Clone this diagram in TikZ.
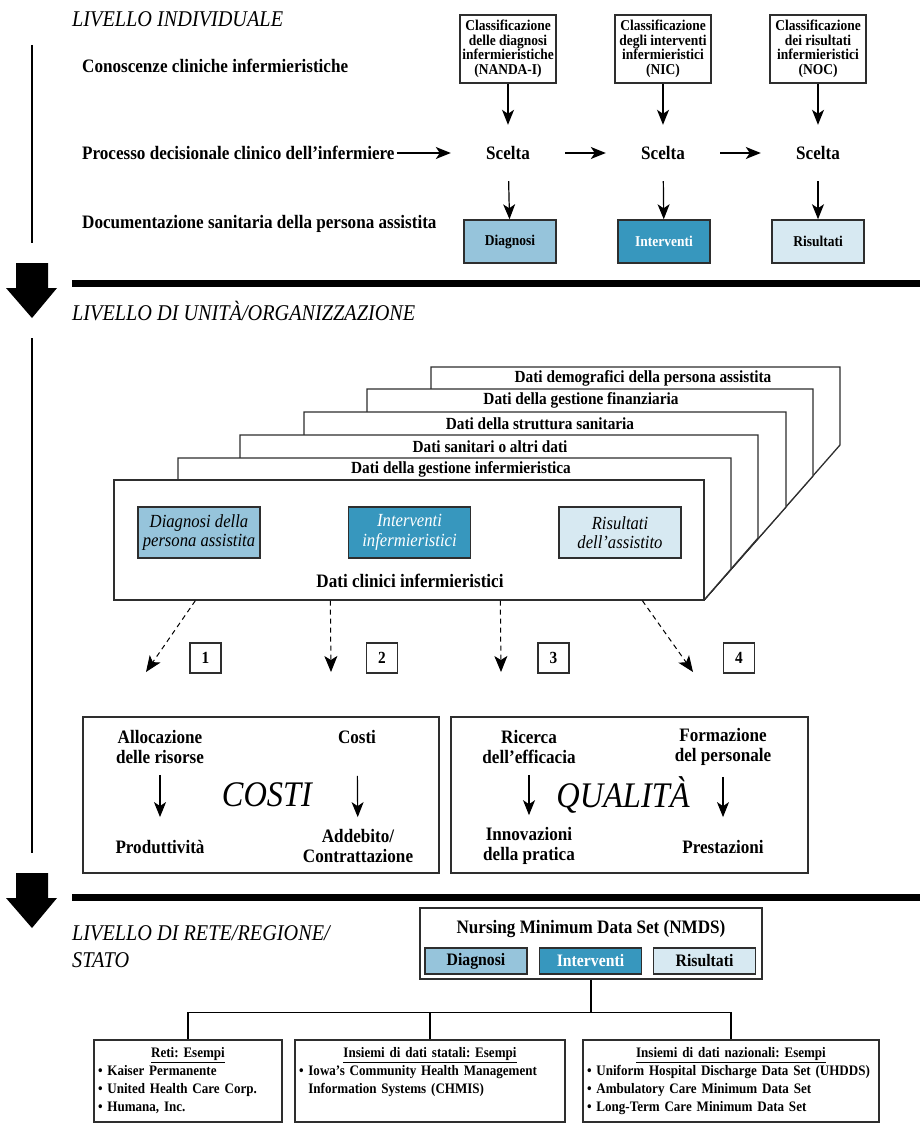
\documentclass[tikz,border=0pt]{standalone}
\usepackage{fontspec}
\setmainfont{Liberation Serif}[FakeStretch=0.9]
\usepackage{tikz}
\usetikzlibrary{arrows.meta, positioning, calc}
\definecolor{diagblue}{HTML}{96C4DB}
\definecolor{intblue}{HTML}{3797BE}
\definecolor{resblue}{HTML}{D7E9F2}
\definecolor{edge}{HTML}{2E2E2E}
\newcommand{\setsize}[2]{\fontsize{#1}{#2}\selectfont\lineskiplimit=-20pt}
\frenchspacing
\tikzset{
>={Stealth[length=15pt,width=12pt,inset=4pt]}, % solid heads for all arrows
every node/.style={inner sep=2pt}, % tight padding
heading/.style={anchor=west, align=left, font=\setsize{22.5}{27}\itshape}, % level titles
rowlabel/.style={anchor=west, font=\setsize{19}{20}\bfseries}, % left column texts
classbox/.style={draw=edge, line width=1.3pt, minimum width=96pt, minimum height=68pt, align=center, font=\setsize{15}{14.5}\bfseries}, % NANDA-I, NIC, NOC
choice/.style={minimum width=114pt, minimum height=56pt, font=\setsize{19}{20}\bfseries}, % Scelta
codebox/.style={draw=edge, line width=1.5pt, minimum width=92pt, minimum height=43pt, font=\setsize{15}{15}\bfseries}, % record boxes
diag/.style={fill=diagblue}, % diagnoses colour
interv/.style={fill=intblue, text=white}, % interventions colour
risul/.style={fill=resblue}, % outcomes colour
sheet/.style={draw=edge, fill=white, line width=1.3pt, line join=miter}, % stacked data pages
sheettext/.style={font=\setsize{17}{18}\bfseries}, % page titles
databox/.style={draw=edge, line width=1.3pt, minimum width=122pt, minimum height=51pt, align=center, font=\setsize{18.5}{19.5}\itshape}, % clinical data boxes
numbox/.style={draw=edge, line width=1.2pt, minimum width=31pt, minimum height=30pt, font=\setsize{17}{18}\bfseries}, % 1 to 4
dasharrow/.style={-{Stealth[length=16pt,width=13pt,inset=4pt]}, line width=1pt, dash pattern=on 5pt off 4pt}, % uses of the data
areabox/.style={draw=edge, line width=1.3pt, minimum width=356pt, minimum height=156pt}, % COSTI and QUALITA
areatext/.style={align=center, font=\setsize{19}{20}\bfseries}, % texts in those boxes
bigword/.style={font=\setsize{36}{36}\itshape}, % COSTI, QUALITA
tinybox/.style={draw=edge, line width=1.5pt, minimum width=102pt, minimum height=26pt, font=\setsize{17.5}{18}\bfseries}, % NMDS elements
netbox/.style={draw=edge, line width=1.3pt, minimum height=82pt}, % example boxes
nettext/.style={anchor=north, align=left, font=\setsize{14.5}{17.8}\bfseries}, % example lists
}

\begin{document}
\begin{tikzpicture}[x=1pt, y=-1pt]
\path[use as bounding box, fill=white] (0,0) rectangle (920,1123);

% individual level
\node[heading] (h1) at (70,19) {LIVELLO INDIVIDUALE};
\draw[line width=1.8pt] (32,45) -- (32,243);
\node[rowlabel] (know) at (80,66) {Conoscenze cliniche infermieristiche};
\node[rowlabel] (proc) at (80,153) {Processo decisionale clinico dell’infermiere};
\node[rowlabel] (doc) at (80,224) {Documentazione sanitaria della persona assistita};

\node[classbox] (c1) at (508,49) {Classificazione\\delle diagnosi\\infermieristiche\\(NANDA-I)};
\node[classbox] (c2) at (663,49) {Classificazione\\degli interventi\\infermieristici\\(NIC)};
\node[classbox] (c3) at (818,49) {Classificazione\\dei risultati\\infermieristici\\(NOC)};

\node[choice] (s1) at (508,153) {Scelta};
\node[choice] (s2) at (663,153) {Scelta};
\node[choice] (s3) at (818,153) {Scelta};

\node[codebox, diag] (d1) at (510,241.5) {Diagnosi};
\node[codebox, interv] (d2) at (664,241.5) {Interventi};
\node[codebox, risul] (d3) at (818,241.5) {Risultati};

\draw[->, line width=1.2pt] (c1) -- (s1);
\draw[->, line width=1.2pt] (c2) -- (s2);
\draw[->, line width=1.2pt] (c3) -- (s3);
\draw[->, line width=1.2pt] (proc) -- (s1);
\draw[->, line width=1.2pt] (s1) -- (s2);
\draw[->, line width=1.2pt] (s2) -- (s3);
\draw[->, line width=1.2pt] (s1) -- (d1);
\draw[->, line width=1.2pt] (s2) -- (d2);
\draw[->, line width=1.2pt] (s3) -- (d3);

\fill (16,263) -- (48,263) -- (48,288) -- (57,288) -- (32,318) -- (6,288) -- (16,288) -- cycle;
\draw[line width=7pt] (72,283) -- (920,283);

% unit / organization level
\node[heading] (h2) at (70,311) {LIVELLO DI UNITÀ/ORGANIZZAZIONE};
\draw[line width=1.8pt] (32,338) -- (32,853);

\draw[sheet] (431,367) -- (840,367) -- (840,445) -- (704,600) -- (431,600) -- cycle;
\draw[sheet] (367,389) -- (813,389) -- (813,476) -- (704,600) -- (367,600) -- cycle;
\draw[sheet] (304,412) -- (786,412) -- (786,507) -- (704,600) -- (304,600) -- cycle;
\draw[sheet] (240,435) -- (758,435) -- (758,538) -- (704,600) -- (240,600) -- cycle;
\draw[sheet] (178,458) -- (731,458) -- (731,569) -- (704,600) -- (178,600) -- cycle;
\node[sheettext] (p5) at (643,378) {Dati demografici della persona assistita};
\node[sheettext] (p4) at (581,400.5) {Dati della gestione finanziaria};
\node[sheettext] (p3) at (540,423.5) {Dati della struttura sanitaria};
\node[sheettext] (p2) at (490,446.5) {Dati sanitari o altri dati};
\node[sheettext] (p1) at (461,469) {Dati della gestione infermieristica};

\node[sheet, minimum width=590pt, minimum height=120pt] (front) at (409,540) {};
\node[databox, diag] (pd) at (199,532.5) {Diagnosi della\\persona assistita};
\node[databox, interv] (pi) at (409.5,532.5) {Interventi\\infermieristici};
\node[databox, risul] (pr) at (620,532.5) {Risultati\\dell’assistito};
\node[font=\setsize{19}{20}\bfseries] (clin) at (410,581) {Dati clinici infermieristici};

\coordinate (t1) at (146,672);
\coordinate (t2) at (331,672);
\coordinate (t3) at (501,672);
\coordinate (t4) at (693,672);
\draw[dasharrow] ($(front.south west)+(82,0)$) -- (t1);
\draw[dasharrow] ($(front.south west)+(217,0)$) -- (t2);
\draw[dasharrow] ($(front.south west)+(387,0)$) -- (t3);
\draw[dasharrow] ($(front.south west)+(529,0)$) -- (t4);
\node[numbox] (n1) at (205.5,658) {1};
\node[numbox] (n2) at (382,658) {2};
\node[numbox] (n3) at (553.5,658) {3};
\node[numbox] (n4) at (739,658) {4};

\node[areabox] (cost) at (261,795) {};
\node[areatext] (alloc) at (160,747) {Allocazione\\delle risorse};
\node[areatext] (costi) at (357,737) {Costi};
\node[areatext] (prod) at (160,847) {Produttività};
\node[areatext] (addeb) at (358,846) {Addebito/\\Contrattazione};
\node[bigword] (costs) at (267,795) {COSTI};
\draw[->, line width=1.2pt, shorten <=9pt, shorten >=21pt] (alloc) -- (prod);
\draw[->, line width=1.2pt, shorten <=30pt, shorten >=10pt] (costi) -- (addeb);

\node[areabox, minimum width=357pt] (qual) at (629.5,795) {};
\node[areatext] (ric) at (529,747) {Ricerca\\dell’efficacia};
\node[areatext] (form) at (723,747) {Formazione\\del personale};
\node[areatext] (innov) at (529,846) {Innovazioni\\della pratica};
\node[areatext] (prest) at (723,847) {Prestazioni};
\node[bigword] (quals) at (623,795) {QUALITÀ};
\draw[->, line width=1.2pt, shorten <=9pt, shorten >=10pt] (ric) -- (innov);
\draw[->, line width=1.2pt, shorten <=9pt, shorten >=21pt] (form) -- (prest);

\fill (16,873) -- (48,873) -- (48,898) -- (57,898) -- (32,928) -- (6,898) -- (16,898) -- cycle;
\draw[line width=7pt] (72,897) -- (920,897);

% network / region / state level
\node[heading] (h3) at (70,946.5) {LIVELLO DI RETE/REGIONE/\\STATO};

\node[draw=edge, line width=1.3pt, minimum width=342pt, minimum height=71pt] (nmds) at (591,943.5) {};
\node[font=\setsize{19}{20}\bfseries] (nmdst) at (591,929) {Nursing Minimum Data Set (NMDS)};
\node[tinybox, diag] (nd) at (476,961) {Diagnosi};
\node[tinybox, interv] (ni) at (590.5,961) {Interventi};
\node[tinybox, risul] (nr) at (704.5,961) {Risultati};

\node[netbox, minimum width=188pt] (reti) at (188,1081) {};
\node[netbox, minimum width=270pt] (stat) at (430,1081) {};
\node[netbox, minimum width=296pt] (naz) at (731,1081) {};
\draw[line width=1.2pt] (nmds.south) -- ++(0,33) coordinate (jn);
\draw[line width=1.2pt] (jn) -| (reti.north);
\draw[line width=1.2pt] (jn) -| (naz.north);
\draw[line width=1.2pt] (stat.north) -- (stat.north |- jn);

\node[nettext, text width=180pt] (retil) at ($(reti.north)+(0,6)$) {\makebox[\linewidth]{\underline{Reti: Esempi}}\\
\textbullet\ Kaiser Permanente\\
\textbullet\ United Health Care Corp.\\
\textbullet\ Humana, Inc.};
\node[nettext, text width=262pt] (statl) at ($(stat.north)+(0,6)$) {\makebox[\linewidth]{\underline{Insiemi di dati statali: Esempi}}\\
\textbullet\ Iowa’s Community Health Management\\
\phantom{\textbullet\ }Information Systems (CHMIS)};
\node[nettext, text width=288pt] (nazl) at ($(naz.north)+(0,6)$) {\makebox[\linewidth]{\underline{Insiemi di dati nazionali: Esempi}}\\
\textbullet\ Uniform Hospital Discharge Data Set (UHDDS)\\
\textbullet\ Ambulatory Care Minimum Data Set\\
\textbullet\ Long-Term Care Minimum Data Set};
\end{tikzpicture}
\end{document}
